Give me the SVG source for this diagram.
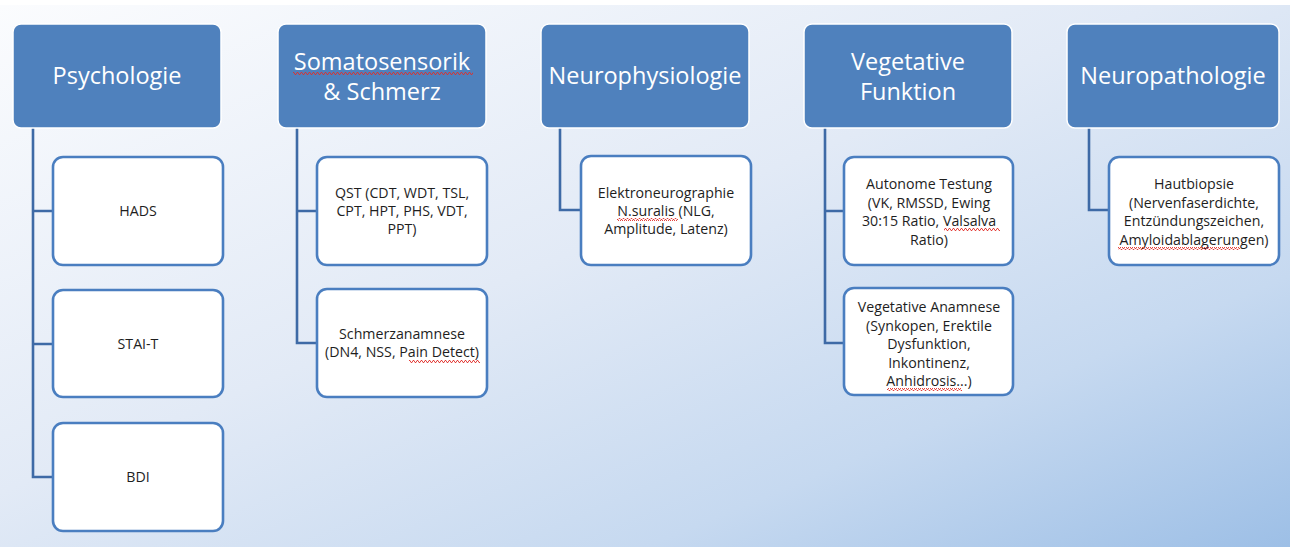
<svg xmlns="http://www.w3.org/2000/svg" width="1298" height="554" viewBox="0 0 1298 554">
<defs>
<linearGradient id="bg" x1="0" y1="0" x2="1" y2="1">
<stop offset="0" stop-color="#FBFCFE"/>
<stop offset="0.45" stop-color="#E2EAF6"/>
<stop offset="0.75" stop-color="#C6D9F0"/>
<stop offset="1" stop-color="#9DBFE6"/>
</linearGradient>
<pattern id="sq" width="4" height="3" patternUnits="userSpaceOnUse">
<path d="M0,2.5 L1,0.5 L2,0.5 L3,2.5 L4,2.5" fill="none" stroke="#E0302A" stroke-width="0.9"/>
</pattern>
<style>
.hd{fill:#4F81BD;stroke:#FFFFFF;stroke-width:1.5}
.ht{font-family:"Open Sans","Liberation Sans",sans-serif;font-size:23.5px;fill:#FFFFFF;text-anchor:middle}
.cb{fill:#FFFFFF;stroke:#4A7EC0;stroke-width:2.6}
.ct{font-family:"Open Sans","Liberation Sans",sans-serif;font-size:14.2px;fill:#1E1E1E;text-anchor:middle}
.cn{fill:none;stroke:#3E6AA6;stroke-width:2.6}
</style>
</defs>
<rect x="0" y="5" width="1290" height="542" fill="url(#bg)"/>

<g id="connectors">
<path class="cn" d="M33,128 V477 H53 M33,211 H53 M33,344 H53"/>
<path class="cn" d="M297,128 V343 H317 M297,211 H317"/>
<path class="cn" d="M560,128 V210 H581"/>
<path class="cn" d="M825,128 V343 H844 M825,211 H844"/>
<path class="cn" d="M1089,128 V210 H1109"/>
</g>

<g id="psychologie">
<rect class="hd" x="13" y="24" width="208" height="104" rx="8"/>
<text class="ht" x="117" y="84">Psychologie</text>
</g>
<g id="hads">
<rect class="cb" x="53" y="157" width="170" height="108" rx="10"/>
<text class="ct" x="138" y="216">HADS</text>
</g>
<g id="stai">
<rect class="cb" x="53" y="290" width="170" height="107" rx="10"/>
<text class="ct" x="138" y="349">STAI-T</text>
</g>
<g id="bdi">
<rect class="cb" x="53" y="423" width="170" height="108" rx="10"/>
<text class="ct" x="138" y="482">BDI</text>
</g>

<g id="somatosensorik">
<rect class="hd" x="278" y="24" width="208" height="104" rx="8"/>
<text class="ht" x="382" y="70">Somatosensorik</text>
<text class="ht" x="382" y="100">&amp; Schmerz</text>
</g>
<g id="qst">
<rect class="cb" x="317" y="157" width="170" height="108" rx="10"/>
<text class="ct" x="402" y="198">QST (CDT, WDT, TSL,</text>
<text class="ct" x="402" y="216">CPT, HPT, PHS, VDT,</text>
<text class="ct" x="402" y="234">PPT)</text>
</g>
<g id="schmerzanamnese">
<rect class="cb" x="317" y="289" width="170" height="108" rx="10"/>
<text class="ct" x="402" y="339">Schmerzanamnese</text>
<text class="ct" x="402" y="357">(DN4, NSS, Pain Detect)</text>
</g>

<g id="neurophysiologie">
<rect class="hd" x="541" y="24" width="208" height="104" rx="8"/>
<text class="ht" x="645" y="84">Neurophysiologie</text>
</g>
<g id="elektroneurographie">
<rect class="cb" x="581" y="156" width="170" height="109" rx="10"/>
<text class="ct" x="666" y="198">Elektroneurographie</text>
<text class="ct" x="666" y="216">N.suralis (NLG,</text>
<text class="ct" x="666" y="234">Amplitude, Latenz)</text>
</g>

<g id="vegetative">
<rect class="hd" x="804" y="24" width="208" height="104" rx="8"/>
<text class="ht" x="908" y="70">Vegetative</text>
<text class="ht" x="908" y="100">Funktion</text>
</g>
<g id="autonome">
<rect class="cb" x="844" y="157" width="169" height="108" rx="10"/>
<text class="ct" x="929" y="189">Autonome Testung</text>
<text class="ct" x="929" y="207.5">(VK, RMSSD, Ewing</text>
<text class="ct" x="929" y="226">30:15 Ratio, Valsalva</text>
<text class="ct" x="929" y="244.5">Ratio)</text>
</g>
<g id="vegetativeanamnese">
<rect class="cb" x="844" y="288" width="169" height="107" rx="10"/>
<text class="ct" x="929" y="312">Vegetative Anamnese</text>
<text class="ct" x="929" y="330.5">(Synkopen, Erektile</text>
<text class="ct" x="929" y="349">Dysfunktion,</text>
<text class="ct" x="929" y="367.5">Inkontinenz,</text>
<text class="ct" x="929" y="386">Anhidrosis...)</text>
</g>

<g id="neuropathologie">
<rect class="hd" x="1067" y="24" width="212" height="104" rx="8"/>
<text class="ht" x="1173" y="84">Neuropathologie</text>
</g>
<g id="hautbiopsie">
<rect class="cb" x="1109" y="157" width="170" height="108" rx="10"/>
<text class="ct" x="1194" y="189">Hautbiopsie</text>
<text class="ct" x="1194" y="207.5">(Nervenfaserdichte,</text>
<text class="ct" x="1194" y="226">Entzündungszeichen,</text>
<text class="ct" x="1194" y="244.5">Amyloidablagerungen)</text>
</g>

<g id="spellcheck">
<rect x="293" y="72" width="180" height="3" fill="url(#sq)"/>
<rect x="617" y="218" width="61" height="3" fill="url(#sq)"/>
<rect x="409" y="360" width="71" height="3" fill="url(#sq)"/>
<rect x="944" y="228" width="56" height="3" fill="url(#sq)"/>
<rect x="887" y="388" width="75" height="3" fill="url(#sq)"/>
<rect x="1118" y="247" width="122" height="3" fill="url(#sq)"/>
</g>
</svg>
